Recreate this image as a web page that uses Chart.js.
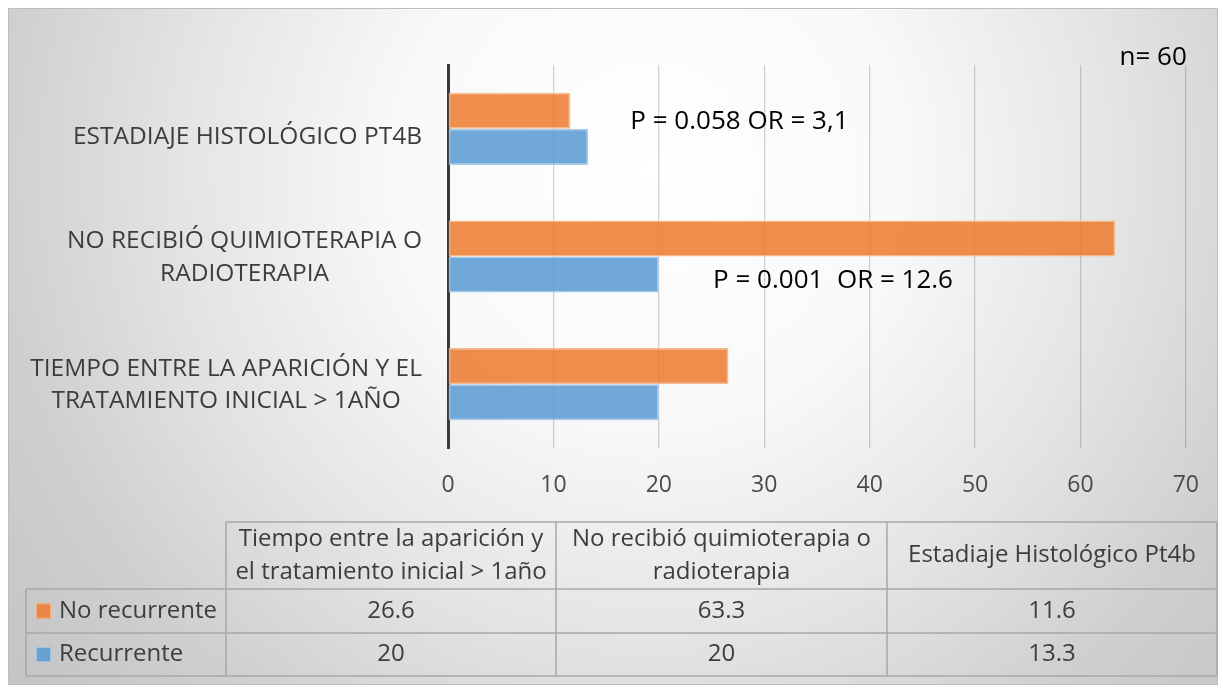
<!DOCTYPE html>
<html><head><meta charset="utf-8">
<script src="https://cdn.jsdelivr.net/npm/chart.js@4.4.1/dist/chart.umd.min.js"></script>
<style>html,body{margin:0;padding:0;background:#fff;} canvas{display:block;}</style>
</head><body>
<canvas id="c" width="1223" height="688"></canvas>
<script>
// ---- data ----
const categories = ['Tiempo entre la aparición y el tratamiento inicial > 1año', 'No recibió quimioterapia o radioterapia', 'Estadiaje Histológico Pt4b'];
const axisLabelLines = [['TIEMPO ENTRE LA APARICIÓN Y EL', 'TRATAMIENTO INICIAL > 1AÑO'], ['NO RECIBIÓ QUIMIOTERAPIA O', 'RADIOTERAPIA'], ['ESTADIAJE HISTOLÓGICO PT4B']];
const tableHeaderLines = [['Tiempo entre la aparición y', 'el tratamiento inicial > 1año'], ['No recibió quimioterapia o', 'radioterapia'], ['Estadiaje Histológico Pt4b']];
const seriesNames = ['No recurrente', 'Recurrente'];
const noRecurrente = [26.6, 63.3, 11.6];
const recurrente = [20, 20, 13.3];
const tableValues = [['26.6', '63.3', '11.6'], ['20', '20', '13.3']];
const xTickStep = 10;
const xMax = 70;
const annotationTexts = ['P = 0.058 OR = 3,1', 'P = 0.001  OR = 12.6'];
const annotationCats = [2, 1];
const annotationX = [17.3, 25.15];
const sampleNote = 'n= 60';

// ---- styles ----
const FONT = '"Open Sans", sans-serif';
const ORANGE = 'rgba(237,125,49,0.87)';
const BLUE = 'rgba(91,155,213,0.87)';
const ORANGE_B = 'rgba(246,178,130,0.9)';
const BLUE_B = 'rgba(160,198,232,0.9)';
const TEXT = '#3d3d3d';

const decor = {
  id: 'decor',
  beforeDraw(chart) {
    const ctx = chart.ctx;
    ctx.save();
    ctx.fillStyle = '#ffffff';
    ctx.fillRect(0, 0, chart.width, chart.height);
    const g = ctx.createRadialGradient(650, 170, 0, 650, 170, 840);
    g.addColorStop(0, '#ffffff');
    g.addColorStop(0.3, '#f9f9f9');
    g.addColorStop(0.56, '#e4e4e4');
    g.addColorStop(0.78, '#cfcfcf');
    g.addColorStop(1, '#c3c3c3');
    ctx.fillStyle = g;
    ctx.fillRect(8, 8, 1210, 677);
    ctx.strokeStyle = '#bdbdbd';
    ctx.lineWidth = 1;
    ctx.strokeRect(8.5, 8.5, 1209, 676);
    ctx.restore();
  },
  afterDraw(chart) {
    const ctx = chart.ctx;
    const xs = chart.scales.x, ys = chart.scales.y;
    const area = chart.chartArea;
    ctx.save();
    // category labels
    ctx.font = '24.5px ' + FONT;
    ctx.fillStyle = TEXT;
    ctx.textBaseline = 'middle';
    ctx.textAlign = 'center';
    const right = area.left - 26;
    axisLabelLines.forEach((lines, i) => {
      const cy = ys.getPixelForValue(i) + (lines.length === 1 ? 8 : 1);
      const w = Math.max(...lines.map(l => ctx.measureText(l).width));
      const cx = right - w / 2;
      const lh = 32.5;
      lines.forEach((l, k) => {
        ctx.fillText(l, cx, cy + (k - (lines.length - 1) / 2) * lh);
      });
    });
    // annotations
    ctx.font = '26px ' + FONT;
    ctx.fillStyle = '#000000';
    ctx.textAlign = 'left';
    const dys = [-7, 24];
    annotationTexts.forEach((t, i) => {
      ctx.fillText(t, xs.getPixelForValue(annotationX[i]), ys.getPixelForValue(annotationCats[i]) + dys[i]);
    });
    ctx.textAlign = 'right';
    ctx.fillText(sampleNote, xs.getPixelForValue(xMax) + 1, area.top - 7);

    // data table
    const colX = [26, 226, 556, 887, 1217];
    const rowY = [522, 589, 633, 676];
    ctx.strokeStyle = '#a8a8a8';
    ctx.lineWidth = 1.5;
    ctx.beginPath();
    ctx.moveTo(colX[1], rowY[0]); ctx.lineTo(colX[4], rowY[0]);
    for (let r = 1; r < 4; r++) { ctx.moveTo(colX[0], rowY[r]); ctx.lineTo(colX[4], rowY[r]); }
    ctx.moveTo(colX[0], rowY[1]); ctx.lineTo(colX[0], rowY[3]);
    for (let c = 1; c < 5; c++) { ctx.moveTo(colX[c], rowY[0]); ctx.lineTo(colX[c], rowY[3]); }
    ctx.stroke();
    ctx.font = '24px ' + FONT;
    ctx.fillStyle = TEXT;
    ctx.textAlign = 'center';
    tableHeaderLines.forEach((lines, i) => {
      const cx = (colX[i + 1] + colX[i + 2]) / 2;
      const cy = (rowY[0] + rowY[1]) / 2;
      lines.forEach((l, k) => ctx.fillText(l, cx, cy + (k - (lines.length - 1) / 2) * 33));
    });
    const fills = [ORANGE, BLUE];
    const borders = [ORANGE_B, BLUE_B];
    tableValues.forEach((row, r) => {
      const cy = (rowY[r + 1] + rowY[r + 2]) / 2;
      ctx.fillStyle = TEXT;
      row.forEach((v, i) => {
        ctx.textAlign = 'center';
        ctx.fillText(v, (colX[i + 1] + colX[i + 2]) / 2, cy);
      });
      ctx.fillStyle = fills[r];
      ctx.fillRect(36, cy - 7.5, 15, 15);
      ctx.strokeStyle = borders[r];
      ctx.lineWidth = 1;
      ctx.strokeRect(36.5, cy - 7, 14, 14);
      ctx.fillStyle = TEXT;
      ctx.textAlign = 'left';
      ctx.fillText(seriesNames[r], 59, cy);
    });
    ctx.restore();
  }
};

new Chart(document.getElementById('c'), {
  type: 'bar',
  data: {
    labels: categories,
    datasets: [
      { label: seriesNames[0], data: noRecurrente, backgroundColor: ORANGE, borderColor: ORANGE_B, borderWidth: 1.5, borderSkipped: false },
      { label: seriesNames[1], data: recurrente, backgroundColor: BLUE, borderColor: BLUE_B, borderWidth: 1.5, borderSkipped: false }
    ]
  },
  options: {
    indexAxis: 'y',
    responsive: false,
    devicePixelRatio: 1,
    animation: false,
    categoryPercentage: 0.565,
    barPercentage: 1.0,
    layout: { padding: { left: 8, right: 37, top: 65, bottom: 192 } },
    plugins: { legend: { display: false }, tooltip: { enabled: false } },
    scales: {
      x: {
        min: 0, max: xMax,
        ticks: { stepSize: xTickStep, color: '#4a4a4a', font: { family: FONT, size: 23 }, padding: 24, maxRotation: 0 },
        grid: { color: 'rgba(0,0,0,0.17)', lineWidth: 1.3, drawTicks: false },
        border: { display: false },
        afterFit: s => { s.height = 48; }
      },
      y: {
        reverse: true,
        z: 1,
        ticks: { display: false },
        grid: { display: false, drawTicks: false },
        border: { display: true, color: '#3a3a3a', width: 3 },
        afterFit: s => { s.width = 440; }
      }
    }
  },
  plugins: [decor]
});
</script>
</body></html>
